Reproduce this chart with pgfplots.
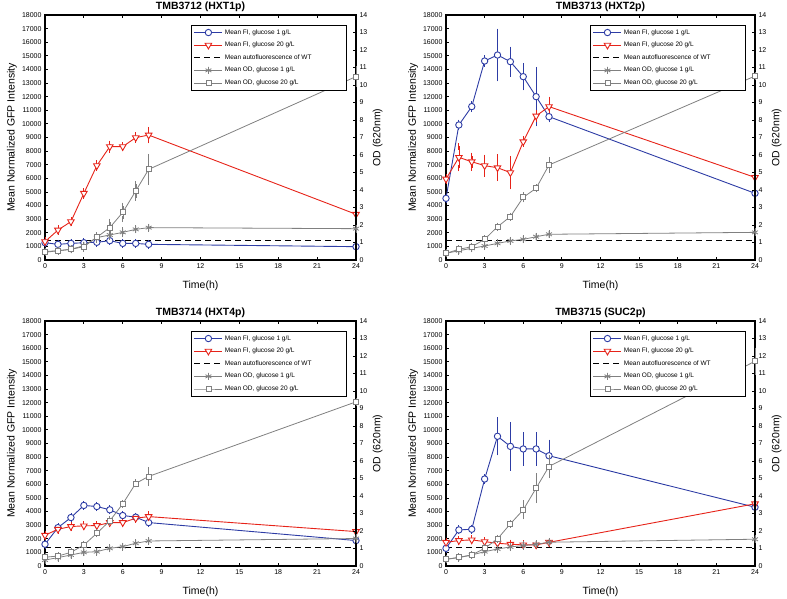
\documentclass[border=0pt]{standalone}
\usepackage{fontspec}
\setmainfont{Liberation Sans}
\usepackage{pgfplots}
\usepackage{pgfplotstable}
\pgfplotsset{compat=1.18}
\definecolor{fiblue}{RGB}{45,60,165}
\definecolor{fired}{RGB}{230,35,25}
\definecolor{odgray}{RGB}{128,128,128}

% ---------- TMB3712 ----------
\pgfplotstableread{
x y e
0 1270 100
1 1150 100
2 1220 100
3 1270 100
4 1300 100
5 1420 100
6 1220 100
7 1220 100
8 1150 100
24 980 100
}\PAfiOne
\pgfplotstableread{
x y e
0 1350 100
1 2200 100
2 2820 100
3 4900 150
4 6930 150
5 8330 200
6 8330 100
7 8990 150
8 9180 370
24 3360 500
}\PAfiTw
\pgfplotstableread{
x y e
0 0.48 0.05
1 0.53 0.05
2 0.61 0.05
3 0.82 0.05
4 1.28 0.10
5 1.43 0.10
6 1.58 0.10
7 1.75 0.05
8 1.85 0.05
24 1.79 0.05
}\PAodOne
\pgfplotstableread{
x y e
0 0.44 0.05
1 0.53 0.05
2 0.61 0.05
3 0.76 0.10
4 1.30 0.10
5 1.85 0.33
6 2.72 0.38
7 3.94 0.38
8 5.18 0.70
24 10.48 0.40
}\PAodTw
% ---------- TMB3713 ----------
\pgfplotstableread{
x y e
0 4530 100
1 9920 150
2 11270 150
3 14620 200
4 15060 1700
5 14570 880
6 13470 780
7 12000 1950
8 10530 180
24 4900 100
}\PBfiOne
\pgfplotstableread{
x y e
0 5950 100
1 7540 800
2 7220 440
3 6930 580
4 6780 750
5 6420 1000
6 8690 150
7 10580 180
8 11270 500
24 6070 2000
}\PBfiTw
\pgfplotstableread{
x y e
0 0.38 0.05
1 0.53 0.05
2 0.67 0.05
3 0.80 0.05
4 0.95 0.05
5 1.09 0.05
6 1.18 0.05
7 1.33 0.05
8 1.47 0.05
24 1.58 0.05
}\PBodOne
\pgfplotstableread{
x y e
0 0.38 0.05
1 0.61 0.05
2 0.76 0.05
3 1.18 0.05
4 1.90 0.05
5 2.48 0.05
6 3.58 0.10
7 4.10 0.05
8 5.43 0.28
24 10.51 0.05
}\PBodTw
% ---------- TMB3714 ----------
\pgfplotstableread{
x y e
0 1600 100
1 2820 100
2 3560 100
3 4450 100
4 4370 100
5 4130 100
6 3710 100
7 3590 100
8 3190 100
24 1870 100
}\PCfiOne
\pgfplotstableread{
x y e
0 2260 100
1 2700 100
2 2900 100
3 2950 100
4 2970 100
5 3190 100
6 3190 100
7 3510 100
8 3630 150
24 2530 100
}\PCfiTw
\pgfplotstableread{
x y e
0 0.34 0.05
1 0.48 0.05
2 0.63 0.05
3 0.78 0.05
4 0.82 0.05
5 1.01 0.05
6 1.11 0.05
7 1.30 0.05
8 1.43 0.05
24 1.57 0.05
}\PCodOne
\pgfplotstableread{
x y e
0 0.50 0.05
1 0.57 0.05
2 0.78 0.05
3 1.20 0.05
4 1.87 0.05
5 2.58 0.10
6 3.55 0.05
7 4.72 0.05
8 5.12 0.35
24 9.38 0.05
}\PCodTw
% ---------- TMB3715 ----------
\pgfplotstableread{
x y e
0 1300 100
1 2650 100
2 2700 100
3 6390 100
4 9530 1170
5 8790 1570
6 8600 1000
7 8600 1000
8 8100 950
24 4320 100
}\PDfiOne
\pgfplotstableread{
x y e
0 1740 100
1 1870 100
2 1920 100
3 1790 100
4 1670 100
5 1600 100
6 1550 100
7 1550 100
8 1740 100
24 4570 1100
}\PDfiTw
\pgfplotstableread{
x y e
0 0.38 0.05
1 0.48 0.05
2 0.63 0.05
3 0.82 0.05
4 0.97 0.05
5 1.09 0.05
6 1.17 0.05
7 1.24 0.05
8 1.36 0.05
24 1.53 0.05
}\PDodOne
\pgfplotstableread{
x y e
0 0.38 0.05
1 0.50 0.05
2 0.63 0.05
3 1.01 0.05
4 1.55 0.05
5 2.41 0.05
6 3.21 0.36
7 4.45 0.67
8 5.69 0.48
24 11.70 0.60
}\PDodTw

\pgfplotsset{
  errs/.style={error bars/y dir=both, error bars/y explicit,
    error bars/error mark options={mark size=3.2pt, line width=0.8pt}},
  fione/.style={color=fiblue, line width=0.9pt, mark=*, mark size=3.2pt, mark options={solid, fill=white}, errs},
  fitw/.style={color=fired, line width=0.9pt, mark=triangle*, mark size=3.8pt, mark options={solid, fill=white, rotate=180}, errs},
  wt/.style={color=black, line width=0.9pt, dash pattern=on 6pt off 4pt, mark=none},
  odone/.style={color=odgray, line width=0.8pt, mark=asterisk, mark size=3.4pt, mark options={solid}, errs},
  odtw/.style={color=odgray, line width=0.8pt, mark=square*, mark size=2.5pt, mark options={solid, fill=white}, errs},
  common/.style={scale only axis, height=245pt, anchor=south west, clip=false,
    xmin=0, xmax=24, tick align=inside, major tick length=3pt,
    tick style={black, line width=0.8pt}, axis line style={line width=1.2pt},
    ticklabel style={font=\fontsize{7}{8}\selectfont},
    /pgf/number format/assume math mode=true, /pgf/number format/1000 sep={},
    scaled y ticks=false,
    label style={font=\fontsize{10.5}{12}\selectfont}},
  leftax/.style={common, ymin=0, ymax=18000, xtick={0,3,...,24}, ytick={0,1000,...,18000},
    ytick pos=left, xlabel={Time(h)}, ylabel={Mean Normalized GFP Intensity},
    xlabel style={at={(axis description cs:0.5,-0.105)}, anchor=center},
    ylabel style={at={(axis description cs:-0.106,0.5)}, anchor=center},
    every axis title/.style={at={(axis description cs:0.5,1.034)}, anchor=center, font=\bfseries\fontsize{10.5}{12}\selectfont}},
  rightax/.style={common, ymin=0, ymax=14, ytick={0,1,...,14}, axis x line=none, axis y line*=right,
    ylabel={OD (620nm)},
    ylabel style={at={(axis description cs:1.07,0.5)}, anchor=center},
    legend image code/.code={\draw[mark repeat=2,mark phase=2] plot coordinates {(0pt,0pt)(14pt,0pt)(28pt,0pt)};},
    legend cell align=left,
    legend style={at={(axis description cs:0.971,0.959)}, anchor=north east,
      font=\fontsize{6.5}{7}\selectfont, draw=black, line width=0.8pt, row sep=2.4pt}}
}

\newcommand{\panel}[9]{%
\begin{axis}[leftax, at={(#1,#2)}, width=#3, title={#4}]
\addplot[wt] coordinates {(0,#9) (24,#9)};
\addplot[fione] table[x=x,y=y,y error=e] {#5};
\addplot[fitw] table[x=x,y=y,y error=e] {#6};
\end{axis}
\begin{axis}[rightax, at={(#1,#2)}, width=#3]
\addlegendimage{fione}\addlegendentry{Mean FI, glucose 1 g/L}
\addlegendimage{fitw}\addlegendentry{Mean FI, glucose 20 g/L}
\addlegendimage{wt}\addlegendentry{Mean autofluorescence of WT\hspace*{30pt}}
\addplot[odone] table[x=x,y=y,y error=e] {#7};\addlegendentry{Mean OD, glucose 1 g/L}
\addplot[odtw] table[x=x,y=y,y error=e] {#8};\addlegendentry{Mean OD, glucose 20 g/L}
\end{axis}}

\begin{document}
\begin{tikzpicture}
\useasboundingbox (0,0) rectangle (787pt,598pt);
\panel{45pt}{338pt}{311pt}{TMB3712 (HXT1p)}{\PAfiOne}{\PAfiTw}{\PAodOne}{\PAodTw}{1450}
\panel{446pt}{338pt}{309pt}{TMB3713 (HXT2p)}{\PBfiOne}{\PBfiTw}{\PBodOne}{\PBodTw}{1470}
\panel{45pt}{32pt}{311pt}{TMB3714 (HXT4p)}{\PCfiOne}{\PCfiTw}{\PCodOne}{\PCodTw}{1390}
\panel{446pt}{32pt}{309pt}{TMB3715 (SUC2p)}{\PDfiOne}{\PDfiTw}{\PDodOne}{\PDodTw}{1390}
\end{tikzpicture}
\end{document}
